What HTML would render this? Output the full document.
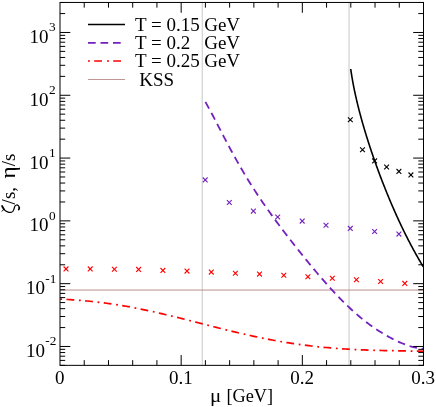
<!DOCTYPE html>
<html><head><meta charset="utf-8"><title>plot</title>
<style>html,body{margin:0;padding:0;background:#fff;}svg{display:block;will-change:transform;}text{font-family:"Liberation Serif",serif;fill:#000;}</style></head><body>
<svg width="436" height="407" viewBox="0 0 436 407">
<rect x="0" y="0" width="436" height="407" fill="#fff"/>
<line x1="202.3" y1="2.45" x2="202.3" y2="365.35" stroke="#d2d2d2" stroke-width="1.2"/>
<line x1="349.05" y1="2.45" x2="349.05" y2="365.35" stroke="#d2d2d2" stroke-width="1.25"/>
<line x1="60.0" y1="290.05" x2="423.5" y2="290.05" stroke="#bc8f8f" stroke-width="1"/>
<path d="M350.72,69.00 L350.96,70.66 L351.20,72.33 L351.46,73.99 L351.72,75.65 L352.00,77.32 L352.28,78.98 L352.57,80.64 L352.87,82.30 L353.18,83.97 L353.50,85.63 L353.83,87.29 L354.16,88.96 L354.50,90.62 L354.85,92.28 L355.21,93.95 L355.58,95.61 L355.95,97.27 L356.33,98.93 L356.72,100.60 L357.11,102.26 L357.51,103.92 L357.92,105.59 L358.34,107.25 L358.76,108.91 L359.18,110.58 L359.62,112.24 L360.06,113.90 L360.50,115.56 L360.96,117.23 L361.41,118.89 L361.88,120.55 L362.35,122.22 L362.82,123.88 L363.30,125.54 L363.79,127.21 L364.28,128.87 L364.78,130.53 L365.28,132.19 L365.79,133.86 L366.30,135.52 L366.81,137.18 L367.34,138.85 L367.86,140.51 L368.40,142.17 L368.93,143.84 L369.47,145.50 L370.02,147.16 L370.57,148.83 L371.13,150.49 L371.69,152.15 L372.25,153.81 L372.82,155.48 L373.40,157.14 L373.97,158.80 L374.56,160.47 L375.14,162.13 L375.74,163.79 L376.33,165.46 L376.93,167.12 L377.54,168.78 L378.15,170.44 L378.77,172.11 L379.38,173.77 L380.01,175.43 L380.64,177.10 L381.27,178.76 L381.91,180.42 L382.55,182.09 L383.20,183.75 L383.85,185.41 L384.51,187.07 L385.17,188.74 L385.83,190.40 L386.51,192.06 L387.18,193.73 L387.86,195.39 L388.55,197.05 L389.24,198.72 L389.94,200.38 L390.64,202.04 L391.35,203.71 L392.06,205.37 L392.78,207.03 L393.51,208.69 L394.24,210.36 L394.97,212.02 L395.71,213.68 L396.46,215.35 L397.22,217.01 L397.98,218.67 L398.74,220.34 L399.52,222.00 L400.30,223.66 L401.08,225.32 L401.88,226.99 L402.68,228.65 L403.48,230.31 L404.30,231.98 L405.12,233.64 L405.95,235.30 L406.79,236.97 L407.63,238.63 L408.49,240.29 L409.35,241.95 L410.22,243.62 L411.09,245.28 L411.98,246.94 L412.88,248.61 L413.78,250.27 L414.69,251.93 L415.61,253.60 L416.55,255.26 L417.49,256.92 L418.44,258.58 L419.40,260.25 L420.37,261.91 L421.35,263.57 L422.35,265.24 L423.35,266.90" fill="none" stroke="#000" stroke-width="1.6" stroke-linejoin="round"/>
<path d="M205.40,101.91 L206.50,103.85 L207.59,105.83 L208.69,107.83 L209.78,109.85 L210.88,111.90 L211.97,113.96 L213.07,116.04 L214.16,118.13 L215.26,120.22 L216.35,122.33 L217.45,124.44 L218.55,126.55 L219.64,128.66 L220.74,130.77 L221.83,132.87 L222.93,134.97 L224.02,137.07 L225.12,139.16 L226.21,141.24 L227.31,143.31 L228.41,145.37 L229.50,147.41 L230.60,149.45 L231.69,151.47 L232.79,153.48 L233.88,155.47 L234.98,157.45 L236.07,159.42 L237.17,161.37 L238.26,163.30 L239.36,165.22 L240.46,167.12 L241.55,169.00 L242.65,170.87 L243.74,172.72 L244.84,174.56 L245.93,176.38 L247.03,178.19 L248.12,179.97 L249.22,181.75 L250.31,183.50 L251.41,185.25 L252.51,186.97 L253.60,188.69 L254.70,190.38 L255.79,192.07 L256.89,193.74 L257.98,195.39 L259.08,197.04 L260.17,198.67 L261.27,200.29 L262.36,201.89 L263.46,203.49 L264.56,205.07 L265.65,206.64 L266.75,208.20 L267.84,209.76 L268.94,211.30 L270.03,212.83 L271.13,214.35 L272.22,215.87 L273.32,217.38 L274.42,218.87 L275.51,220.36 L276.61,221.85 L277.70,223.32 L278.80,224.79 L279.89,226.26 L280.99,227.71 L282.08,229.16 L283.18,230.61 L284.27,232.04 L285.37,233.48 L286.47,234.91 L287.56,236.33 L288.66,237.75 L289.75,239.16 L290.85,240.57 L291.94,241.97 L293.04,243.37 L294.13,244.77 L295.23,246.16 L296.32,247.54 L297.42,248.93 L298.52,250.30 L299.61,251.68 L300.71,253.05 L301.80,254.41 L302.90,255.77 L303.99,257.13 L305.09,258.48 L306.18,259.83 L307.28,261.17 L308.37,262.51 L309.47,263.85 L310.57,265.18 L311.66,266.50 L312.76,267.82 L313.85,269.13 L314.95,270.44 L316.04,271.74 L317.14,273.04 L318.23,274.33 L319.33,275.62 L320.43,276.89 L321.52,278.16 L322.62,279.43 L323.71,280.69 L324.81,281.94 L325.90,283.18 L327.00,284.42 L328.09,285.64 L329.19,286.86 L330.28,288.07 L331.38,289.28 L332.48,290.47 L333.57,291.65 L334.67,292.83 L335.76,294.00 L336.86,295.15 L337.95,296.30 L339.05,297.44 L340.14,298.56 L341.24,299.68 L342.33,300.79 L343.43,301.88 L344.53,302.97 L345.62,304.04 L346.72,305.10 L347.81,306.16 L348.91,307.20 L350.00,308.22 L351.10,309.24 L352.19,310.24 L353.29,311.24 L354.38,312.22 L355.48,313.19 L356.58,314.14 L357.67,315.09 L358.77,316.02 L359.86,316.94 L360.96,317.85 L362.05,318.75 L363.15,319.63 L364.24,320.50 L365.34,321.36 L366.44,322.21 L367.53,323.04 L368.63,323.86 L369.72,324.67 L370.82,325.47 L371.91,326.25 L373.01,327.03 L374.10,327.79 L375.20,328.54 L376.29,329.28 L377.39,330.00 L378.49,330.72 L379.58,331.42 L380.68,332.11 L381.77,332.79 L382.87,333.45 L383.96,334.11 L385.06,334.75 L386.15,335.39 L387.25,336.01 L388.34,336.62 L389.44,337.22 L390.54,337.80 L391.63,338.38 L392.73,338.94 L393.82,339.50 L394.92,340.04 L396.01,340.57 L397.11,341.08 L398.20,341.59 L399.30,342.08 L400.39,342.56 L401.49,343.03 L402.59,343.48 L403.68,343.92 L404.78,344.35 L405.87,344.76 L406.97,345.15 L408.06,345.53 L409.16,345.90 L410.25,346.24 L411.35,346.57 L412.45,346.88 L413.54,347.17 L414.64,347.44 L415.73,347.69 L416.83,347.91 L417.92,348.11 L419.02,348.29 L420.11,348.44 L421.21,348.55 L422.30,348.64 L423.40,348.70" fill="none" stroke="#7221bc" stroke-width="1.8" stroke-dasharray="7.6 4.87" stroke-linejoin="round"/>
<path d="M60.30,299.07 L62.74,299.20 L65.17,299.34 L67.61,299.49 L70.04,299.64 L72.48,299.81 L74.92,299.98 L77.35,300.16 L79.79,300.35 L82.23,300.56 L84.66,300.77 L87.10,300.99 L89.53,301.23 L91.97,301.48 L94.41,301.74 L96.84,302.01 L99.28,302.30 L101.72,302.59 L104.15,302.90 L106.59,303.23 L109.02,303.56 L111.46,303.91 L113.90,304.27 L116.33,304.65 L118.77,305.03 L121.21,305.43 L123.64,305.84 L126.08,306.27 L128.51,306.70 L130.95,307.15 L133.39,307.61 L135.82,308.08 L138.26,308.56 L140.70,309.05 L143.13,309.55 L145.57,310.06 L148.00,310.58 L150.44,311.11 L152.88,311.65 L155.31,312.20 L157.75,312.75 L160.19,313.32 L162.62,313.89 L165.06,314.46 L167.49,315.05 L169.93,315.64 L172.37,316.23 L174.80,316.83 L177.24,317.44 L179.68,318.05 L182.11,318.66 L184.55,319.28 L186.98,319.90 L189.42,320.52 L191.86,321.14 L194.29,321.77 L196.73,322.40 L199.17,323.02 L201.60,323.65 L204.04,324.28 L206.47,324.90 L208.91,325.53 L211.35,326.15 L213.78,326.77 L216.22,327.39 L218.66,328.00 L221.09,328.61 L223.53,329.22 L225.96,329.82 L228.40,330.42 L230.84,331.02 L233.27,331.60 L235.71,332.19 L238.15,332.76 L240.58,333.33 L243.02,333.90 L245.45,334.45 L247.89,335.00 L250.33,335.54 L252.76,336.08 L255.20,336.60 L257.64,337.12 L260.07,337.63 L262.51,338.12 L264.94,338.61 L267.38,339.09 L269.82,339.56 L272.25,340.03 L274.69,340.48 L277.13,340.92 L279.56,341.35 L282.00,341.77 L284.43,342.18 L286.87,342.58 L289.31,342.96 L291.74,343.34 L294.18,343.71 L296.62,344.07 L299.05,344.41 L301.49,344.75 L303.92,345.07 L306.36,345.38 L308.80,345.68 L311.23,345.98 L313.67,346.26 L316.11,346.53 L318.54,346.79 L320.98,347.04 L323.41,347.28 L325.85,347.50 L328.29,347.72 L330.72,347.93 L333.16,348.13 L335.60,348.32 L338.03,348.50 L340.47,348.68 L342.90,348.84 L345.34,348.99 L347.78,349.14 L350.21,349.28 L352.65,349.41 L355.09,349.53 L357.52,349.65 L359.96,349.76 L362.39,349.86 L364.83,349.96 L367.27,350.05 L369.70,350.13 L372.14,350.21 L374.58,350.28 L377.01,350.35 L379.45,350.42 L381.88,350.48 L384.32,350.53 L386.76,350.59 L389.19,350.64 L391.63,350.69 L394.07,350.73 L396.50,350.78 L398.94,350.82 L401.37,350.86 L403.81,350.90 L406.25,350.94 L408.68,350.99 L411.12,351.03 L413.56,351.07 L415.99,351.11 L418.43,351.16 L420.86,351.20 L423.30,351.25" fill="none" stroke="#ff0000" stroke-width="1.7" stroke-dasharray="1.8 4.4 7.8 4.7" stroke-linejoin="round"/>
<path d="M347.9,117.3 L352.7,122.1 M347.9,122.1 L352.7,117.3" stroke="#000" stroke-width="1.1" fill="none"/>
<path d="M360.1,147.4 L364.9,152.2 M360.1,152.2 L364.9,147.4" stroke="#000" stroke-width="1.1" fill="none"/>
<path d="M372.2,158.5 L377.0,163.3 M372.2,163.3 L377.0,158.5" stroke="#000" stroke-width="1.1" fill="none"/>
<path d="M384.2,164.6 L389.0,169.4 M384.2,169.4 L389.0,164.6" stroke="#000" stroke-width="1.1" fill="none"/>
<path d="M396.5,169.0 L401.3,173.8 M396.5,173.8 L401.3,169.0" stroke="#000" stroke-width="1.1" fill="none"/>
<path d="M408.5,172.5 L413.3,177.3 M408.5,177.3 L413.3,172.5" stroke="#000" stroke-width="1.1" fill="none"/>
<path d="M202.8,177.5 L207.6,182.3 M202.8,182.3 L207.6,177.5" stroke="#7221bc" stroke-width="1.1" fill="none"/>
<path d="M226.9,200.1 L231.7,204.9 M226.9,204.9 L231.7,200.1" stroke="#7221bc" stroke-width="1.1" fill="none"/>
<path d="M251.0,208.7 L255.8,213.5 M251.0,213.5 L255.8,208.7" stroke="#7221bc" stroke-width="1.1" fill="none"/>
<path d="M275.3,214.6 L280.1,219.4 M275.3,219.4 L280.1,214.6" stroke="#7221bc" stroke-width="1.1" fill="none"/>
<path d="M299.8,218.7 L304.6,223.5 M299.8,223.5 L304.6,218.7" stroke="#7221bc" stroke-width="1.1" fill="none"/>
<path d="M323.6,222.9 L328.4,227.7 M323.6,227.7 L328.4,222.9" stroke="#7221bc" stroke-width="1.1" fill="none"/>
<path d="M347.9,226.0 L352.7,230.8 M347.9,230.8 L352.7,226.0" stroke="#7221bc" stroke-width="1.1" fill="none"/>
<path d="M372.2,229.1 L377.0,233.9 M372.2,233.9 L377.0,229.1" stroke="#7221bc" stroke-width="1.1" fill="none"/>
<path d="M396.5,231.7 L401.3,236.5 M396.5,236.5 L401.3,231.7" stroke="#7221bc" stroke-width="1.1" fill="none"/>
<path d="M63.6,266.5 L68.4,271.3 M63.6,271.3 L68.4,266.5" stroke="#ff0000" stroke-width="1.1" fill="none"/>
<path d="M87.8,266.5 L92.6,271.3 M87.8,271.3 L92.6,266.5" stroke="#ff0000" stroke-width="1.1" fill="none"/>
<path d="M112.0,266.8 L116.8,271.6 M112.0,271.6 L116.8,266.8" stroke="#ff0000" stroke-width="1.1" fill="none"/>
<path d="M136.2,267.0 L141.0,271.8 M136.2,271.8 L141.0,267.0" stroke="#ff0000" stroke-width="1.1" fill="none"/>
<path d="M160.5,268.0 L165.3,272.8 M160.5,272.8 L165.3,268.0" stroke="#ff0000" stroke-width="1.1" fill="none"/>
<path d="M184.6,268.7 L189.4,273.5 M184.6,273.5 L189.4,268.7" stroke="#ff0000" stroke-width="1.1" fill="none"/>
<path d="M208.9,269.7 L213.7,274.5 M208.9,274.5 L213.7,269.7" stroke="#ff0000" stroke-width="1.1" fill="none"/>
<path d="M233.0,270.8 L237.8,275.6 M233.0,275.6 L237.8,270.8" stroke="#ff0000" stroke-width="1.1" fill="none"/>
<path d="M257.1,271.7 L261.9,276.5 M257.1,276.5 L261.9,271.7" stroke="#ff0000" stroke-width="1.1" fill="none"/>
<path d="M281.4,272.9 L286.2,277.7 M281.4,277.7 L286.2,272.9" stroke="#ff0000" stroke-width="1.1" fill="none"/>
<path d="M305.5,274.3 L310.3,279.1 M305.5,279.1 L310.3,274.3" stroke="#ff0000" stroke-width="1.1" fill="none"/>
<path d="M329.9,275.9 L334.7,280.7 M329.9,280.7 L334.7,275.9" stroke="#ff0000" stroke-width="1.1" fill="none"/>
<path d="M354.0,277.4 L358.8,282.2 M354.0,282.2 L358.8,277.4" stroke="#ff0000" stroke-width="1.1" fill="none"/>
<path d="M378.2,279.1 L383.0,283.9 M378.2,283.9 L383.0,279.1" stroke="#ff0000" stroke-width="1.1" fill="none"/>
<path d="M402.4,281.0 L407.2,285.8 M402.4,285.8 L407.2,281.0" stroke="#ff0000" stroke-width="1.1" fill="none"/>
<path d="M84.23,365.35 V360.15 M84.23,2.45 V7.65 M108.47,365.35 V360.15 M108.47,2.45 V7.65 M132.70,365.35 V360.15 M132.70,2.45 V7.65 M156.93,365.35 V360.15 M156.93,2.45 V7.65 M181.17,365.35 V355.05 M181.17,2.45 V12.75 M205.40,365.35 V360.15 M205.40,2.45 V7.65 M229.63,365.35 V360.15 M229.63,2.45 V7.65 M253.87,365.35 V360.15 M253.87,2.45 V7.65 M278.10,365.35 V360.15 M278.10,2.45 V7.65 M302.33,365.35 V355.05 M302.33,2.45 V12.75 M326.57,365.35 V360.15 M326.57,2.45 V7.65 M350.80,365.35 V360.15 M350.80,2.45 V7.65 M375.03,365.35 V360.15 M375.03,2.45 V7.65 M399.27,365.35 V360.15 M399.27,2.45 V7.65 M60.0,365.37 H65.20 M423.5,365.37 H418.30 M60.0,360.40 H65.20 M423.5,360.40 H418.30 M60.0,356.20 H65.20 M423.5,356.20 H418.30 M60.0,352.56 H65.20 M423.5,352.56 H418.30 M60.0,349.34 H65.20 M423.5,349.34 H418.30 M60.0,346.47 H70.30 M423.5,346.47 H413.20 M60.0,327.57 H65.20 M423.5,327.57 H418.30 M60.0,316.51 H65.20 M423.5,316.51 H418.30 M60.0,308.66 H65.20 M423.5,308.66 H418.30 M60.0,302.57 H65.20 M423.5,302.57 H418.30 M60.0,297.60 H65.20 M423.5,297.60 H418.30 M60.0,293.40 H65.20 M423.5,293.40 H418.30 M60.0,289.76 H65.20 M423.5,289.76 H418.30 M60.0,286.54 H65.20 M423.5,286.54 H418.30 M60.0,283.67 H70.30 M423.5,283.67 H413.20 M60.0,264.77 H65.20 M423.5,264.77 H418.30 M60.0,253.71 H65.20 M423.5,253.71 H418.30 M60.0,245.86 H65.20 M423.5,245.86 H418.30 M60.0,239.77 H65.20 M423.5,239.77 H418.30 M60.0,234.80 H65.20 M423.5,234.80 H418.30 M60.0,230.60 H65.20 M423.5,230.60 H418.30 M60.0,226.96 H65.20 M423.5,226.96 H418.30 M60.0,223.74 H65.20 M423.5,223.74 H418.30 M60.0,220.87 H70.30 M423.5,220.87 H413.20 M60.0,201.97 H65.20 M423.5,201.97 H418.30 M60.0,190.91 H65.20 M423.5,190.91 H418.30 M60.0,183.06 H65.20 M423.5,183.06 H418.30 M60.0,176.97 H65.20 M423.5,176.97 H418.30 M60.0,172.00 H65.20 M423.5,172.00 H418.30 M60.0,167.80 H65.20 M423.5,167.80 H418.30 M60.0,164.16 H65.20 M423.5,164.16 H418.30 M60.0,160.94 H65.20 M423.5,160.94 H418.30 M60.0,158.07 H70.30 M423.5,158.07 H413.20 M60.0,139.17 H65.20 M423.5,139.17 H418.30 M60.0,128.11 H65.20 M423.5,128.11 H418.30 M60.0,120.26 H65.20 M423.5,120.26 H418.30 M60.0,114.17 H65.20 M423.5,114.17 H418.30 M60.0,109.20 H65.20 M423.5,109.20 H418.30 M60.0,105.00 H65.20 M423.5,105.00 H418.30 M60.0,101.36 H65.20 M423.5,101.36 H418.30 M60.0,98.14 H65.20 M423.5,98.14 H418.30 M60.0,95.27 H70.30 M423.5,95.27 H413.20 M60.0,76.37 H65.20 M423.5,76.37 H418.30 M60.0,65.31 H65.20 M423.5,65.31 H418.30 M60.0,57.46 H65.20 M423.5,57.46 H418.30 M60.0,51.37 H65.20 M423.5,51.37 H418.30 M60.0,46.40 H65.20 M423.5,46.40 H418.30 M60.0,42.20 H65.20 M423.5,42.20 H418.30 M60.0,38.56 H65.20 M423.5,38.56 H418.30 M60.0,35.34 H65.20 M423.5,35.34 H418.30 M60.0,32.47 H70.30 M423.5,32.47 H413.20 M60.0,13.57 H65.20 M423.5,13.57 H418.30 M60.0,2.51 H65.20 M423.5,2.51 H418.30" stroke="#000" stroke-width="1" fill="none"/>
<rect x="60.0" y="2.45" width="363.5" height="362.90000000000003" fill="none" stroke="#000" stroke-width="1"/>
<g opacity="0.999">
<text x="25.9" y="357.07" font-size="19">10</text>
<text x="45.25" y="345.37" font-size="13.3">-2</text>
<text x="25.9" y="294.27" font-size="19">10</text>
<text x="45.25" y="282.57" font-size="13.3">-1</text>
<text x="29.6" y="231.47" font-size="19">10</text>
<text x="48.95" y="219.77" font-size="13.3">0</text>
<text x="29.6" y="168.67" font-size="19">10</text>
<text x="48.95" y="156.97" font-size="13.3">1</text>
<text x="29.6" y="105.87" font-size="19">10</text>
<text x="48.95" y="94.17" font-size="13.3">2</text>
<text x="29.6" y="43.07" font-size="19">10</text>
<text x="48.95" y="31.37" font-size="13.3">3</text>
<text x="59.70" y="383.55" font-size="19" text-anchor="middle">0</text>
<text x="180.87" y="383.55" font-size="19" text-anchor="middle">0.1</text>
<text x="302.03" y="383.55" font-size="19" text-anchor="middle">0.2</text>
<text x="423.20" y="383.55" font-size="19" text-anchor="middle">0.3</text>
<text x="209.9" y="402.2" font-size="19" transform="translate(209.9,0) scale(1.1,1) translate(-209.9,0)">&#956;</text>
<text x="226.5" y="402.2" font-size="19" textLength="46.6" lengthAdjust="spacingAndGlyphs">[GeV]</text>
<g fill="none" stroke="#000" stroke-linecap="round" stroke-linejoin="round"><path d="M1.9,211.2 L3.7,209.5" stroke-width="0.9"/><path d="M2.1,206.1 L3.9,209.3" stroke-width="1.9"/><path d="M3.9,209.3 C5.0,210.6 6.5,211.6 8.1,212.1 C9.8,212.6 11.6,212.5 12.8,211.4 C13.9,210.3 14.2,208.5 14.5,207.2 C14.8,205.9 15.4,205.1 16.6,205.0 C18.1,204.9 19.3,206.3 19.3,207.9" stroke-width="1.25"/><path d="M19.3,207.6 C19.3,208.6 19.0,209.3 18.7,209.5" stroke-width="1.7"/></g>
<text transform="translate(15.0,204.4) rotate(-90) scale(1.0,1)" font-size="19">/s,</text>
<text transform="translate(15.0,178.4) rotate(-90) scale(1.1,1)" font-size="21">&#951;</text>
<text transform="translate(15.0,166.3) rotate(-90) scale(1.0,1)" font-size="19">/s</text>
<line x1="88" y1="24.5" x2="125" y2="24.5" stroke="#000" stroke-width="1.45"/>
<line x1="88" y1="42.8" x2="125" y2="42.8" stroke="#7221bc" stroke-width="1.7" stroke-dasharray="7.7 4.8"/>
<line x1="88" y1="61" x2="125" y2="61" stroke="#ff0000" stroke-width="1.7" stroke-dasharray="1.9 4.3 7.8 5.0"/>
<line x1="88" y1="79.5" x2="125" y2="79.5" stroke="#bc8f8f" stroke-width="0.95"/>
<text x="135.0" y="30.9" font-size="19">T = 0.15</text>
<text x="204.2" y="30.9" font-size="19">GeV</text>
<text x="135.0" y="48.8" font-size="19">T = 0.2</text>
<text x="204.2" y="48.8" font-size="19">GeV</text>
<text x="135.0" y="66.9" font-size="19">T = 0.25</text>
<text x="204.2" y="66.9" font-size="19">GeV</text>
<text x="139.2" y="85.5" font-size="19">KSS</text>
</g>
</svg></body></html>
